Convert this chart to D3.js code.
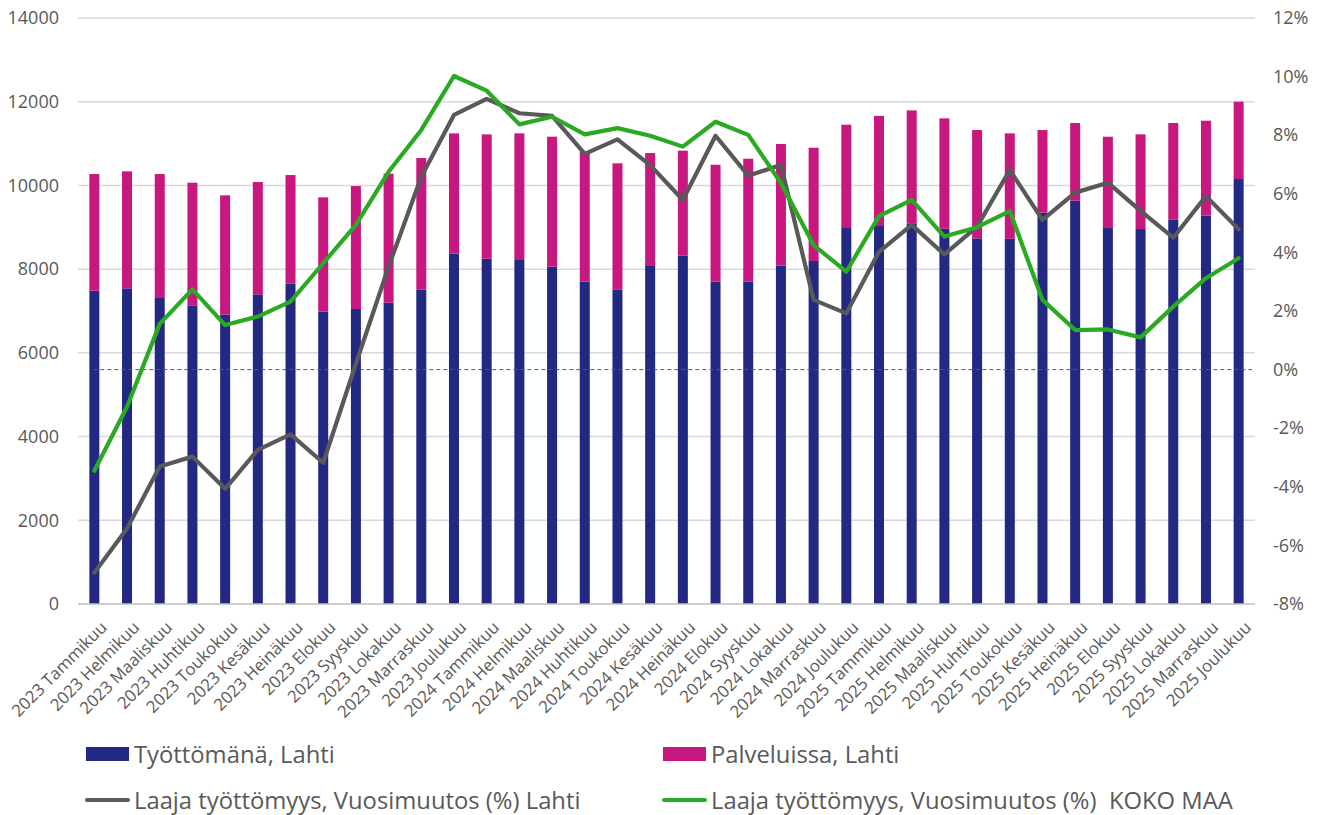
<!DOCTYPE html>
<html>
<head>
<meta charset="utf-8">
<script src="https://cdn.jsdelivr.net/npm/d3@7/dist/d3.min.js"></script>
<style>
  html, body { margin: 0; padding: 0; background: #fff; }
  svg { display: block; }
  text { font-family: "Open Sans", sans-serif; fill: #595959; }
</style>
</head>
<body>
<svg id="chart" width="1320" height="815"></svg>
<script>
const categories = [
  "2023 Tammikuu","2023 Helmikuu","2023 Maaliskuu","2023 Huhtikuu","2023 Toukokuu","2023 Kesäkuu",
  "2023 Heinäkuu","2023 Elokuu","2023 Syyskuu","2023 Lokakuu","2023 Marraskuu","2023 Joulukuu",
  "2024 Tammikuu","2024 Helmikuu","2024 Maaliskuu","2024 Huhtikuu","2024 Toukokuu","2024 Kesäkuu",
  "2024 Heinäkuu","2024 Elokuu","2024 Syyskuu","2024 Lokakuu","2024 Marraskuu","2024 Joulukuu",
  "2025 Tammikuu","2025 Helmikuu","2025 Maaliskuu","2025 Huhtikuu","2025 Toukokuu","2025 Kesäkuu",
  "2025 Heinäkuu","2025 Elokuu","2025 Syyskuu","2025 Lokakuu","2025 Marraskuu","2025 Joulukuu"
];
// Työttömänä, Lahti
const tyottomana = [
  7485, 7541, 7310, 7135, 6912, 7398, 7652, 6984, 7047, 7198, 7509, 8369,
  8249, 8218, 8058, 7700, 7517, 8075, 8321, 7700, 7700, 8082, 8194, 8982,
  9030, 9094, 8966, 8735, 8727, 9348, 9635, 8982, 8958, 9181, 9277, 10153
];
// Palveluissa, Lahti
const palveluissa = [
  2787, 2795, 2962, 2930, 2851, 2683, 2596, 2731, 2939, 3082, 3146, 2875,
  2971, 3026, 3106, 3105, 3011, 2699, 2509, 2795, 2938, 2907, 2707, 2469,
  2632, 2699, 2636, 2588, 2517, 1975, 1856, 2182, 2262, 2310, 2269, 1847
];
// Laaja työttömyys, Vuosimuutos (%) Lahti
const lahtiChange = [
  -6.93, -5.42, -3.31, -2.97, -4.07, -2.74, -2.21, -3.18, 0.2, 3.51, 6.58, 8.69,
  9.24, 8.75, 8.66, 7.36, 7.86, 6.98, 5.79, 7.98, 6.62, 6.98, 2.38, 1.92,
  4.02, 4.94, 3.93, 4.88, 6.81, 5.11, 6.04, 6.38, 5.42, 4.50, 5.92, 4.79
];
// Laaja työttömyys, Vuosimuutos (%) KOKO MAA
const kokoMaaChange = [
  -3.45, -1.27, 1.56, 2.74, 1.52, 1.81, 2.32, 3.63, 4.94, 6.75, 8.18, 10.02,
  9.52, 8.37, 8.63, 8.03, 8.24, 7.98, 7.61, 8.46, 8.01, 6.37, 4.25, 3.34,
  5.24, 5.79, 4.54, 4.86, 5.41, 2.38, 1.35, 1.37, 1.10, 2.15, 3.12, 3.80
];
const leftTicks = [0, 2000, 4000, 6000, 8000, 10000, 12000, 14000];
const rightTicks = [-8, -6, -4, -2, 0, 2, 4, 6, 8, 10, 12];
const seriesNames = [
  "Työttömänä, Lahti",
  "Palveluissa, Lahti",
  "Laaja työttömyys, Vuosimuutos (%) Lahti",
  "Laaja työttömyys, Vuosimuutos (%)  KOKO MAA"
];

const colors = { navy: "#232882", pink: "#C8177E", grey: "#595959", green: "#2AAA22" };

const svg = d3.select("#chart");
const plot = { left: 78, right: 1255, top: 18, bottom: 604 };

const x = d3.scaleBand().domain(categories).range([plot.left, plot.right]).paddingInner(0).paddingOuter(0);
const yL = d3.scaleLinear().domain([0, 14000]).range([plot.bottom, plot.top]);
const yR = d3.scaleLinear().domain([-8, 12]).range([plot.bottom, plot.top]);
const cx = c => x(c) + x.bandwidth() / 2;
const barW = 10;

// gridlines
svg.append("g").selectAll("line").data(leftTicks.filter(d => d > 0)).join("line")
  .attr("x1", plot.left).attr("x2", plot.right)
  .attr("y1", d => yL(d)).attr("y2", d => yL(d))
  .attr("stroke", "#d9d9d9").attr("stroke-width", 1.5);

// left axis labels
const axL = d3.axisLeft(yL).tickValues(leftTicks).tickSize(0).tickPadding(0).tickFormat(d3.format("d"));
const gL = svg.append("g").attr("transform", `translate(59,0)`).call(axL);
gL.select(".domain").remove();
gL.selectAll("text").style("font-size", "18px").attr("fill", "#595959").attr("font-family", "Open Sans");

// right axis labels
const axR = d3.axisRight(yR).tickValues(rightTicks).tickSize(0).tickPadding(0).tickFormat(d => d + "%");
const gR = svg.append("g").attr("transform", `translate(1273,0)`).call(axR);
gR.select(".domain").remove();
gR.selectAll("text").style("font-size", "18px").attr("fill", "#595959").attr("font-family", "Open Sans");

// stacked bars
const stackData = categories.map((c, i) => ({ cat: c, t: tyottomana[i], p: palveluissa[i] }));
const stack = d3.stack().keys(["t", "p"])(stackData);
const barColors = [colors.navy, colors.pink];
svg.append("g").selectAll("g").data(stack).join("g")
  .attr("fill", (d, i) => barColors[i])
  .selectAll("rect").data(d => d).join("rect")
  .attr("x", d => cx(d.data.cat) - barW / 2)
  .attr("width", barW)
  .attr("y", d => yL(d[1]))
  .attr("height", d => yL(d[0]) - yL(d[1]));

// baseline axis
svg.append("line").attr("x1", plot.left).attr("x2", plot.right)
  .attr("y1", plot.bottom).attr("y2", plot.bottom)
  .attr("stroke", "#bfbfbf").attr("stroke-width", 1.5);

// zero dashed line (secondary axis)
svg.append("line")
  .attr("x1", cx(categories[0]) - 1).attr("x2", plot.right - 3)
  .attr("y1", yR(0)).attr("y2", yR(0))
  .attr("stroke", "#595959").attr("stroke-width", 1).attr("stroke-dasharray", "4,3");

// lines
const line = d3.line().x((d, i) => cx(categories[i])).y(d => yR(d));
svg.append("path").datum(lahtiChange).attr("d", line)
  .attr("fill", "none").attr("stroke", colors.grey).attr("stroke-width", 4.2).attr("stroke-linejoin", "round").attr("stroke-linecap", "round");
svg.append("path").datum(kokoMaaChange).attr("d", line)
  .attr("fill", "none").attr("stroke", colors.green).attr("stroke-width", 4.2).attr("stroke-linejoin", "round").attr("stroke-linecap", "round");

// x labels
svg.append("g").selectAll("text").data(categories).join("text")
  .attr("transform", d => `translate(${cx(d) + 5},${620}) rotate(-45)`)
  .attr("text-anchor", "end")
  .attr("dy", "0.72em")
  .style("font-size", "16.8px")
  .text(d => d);

// legend
const legend = svg.append("g");
const legItems = [
  { name: seriesNames[0], type: "rect", color: colors.navy, x: 86, y: 754 },
  { name: seriesNames[1], type: "rect", color: colors.pink, x: 663, y: 754 },
  { name: seriesNames[2], type: "line", color: colors.grey, x: 86, y: 800 },
  { name: seriesNames[3], type: "line", color: colors.green, x: 663, y: 800 }
];
legItems.forEach(it => {
  if (it.type === "rect") {
    legend.append("rect").attr("x", it.x).attr("y", it.y - 7).attr("width", 43).attr("height", 14).attr("fill", it.color);
  } else {
    legend.append("line").attr("x1", it.x + 1).attr("x2", it.x + 42).attr("y1", it.y).attr("y2", it.y)
      .attr("stroke", it.color).attr("stroke-width", 4).attr("stroke-linecap", "round");
  }
  legend.append("text").attr("x", it.x + 48).attr("y", it.y).attr("dy", "0.36em")
    .attr("xml:space", "preserve").style("white-space", "pre")
    .style("font-size", "23.8px").text(it.name);
});
</script>
</body>
</html>
